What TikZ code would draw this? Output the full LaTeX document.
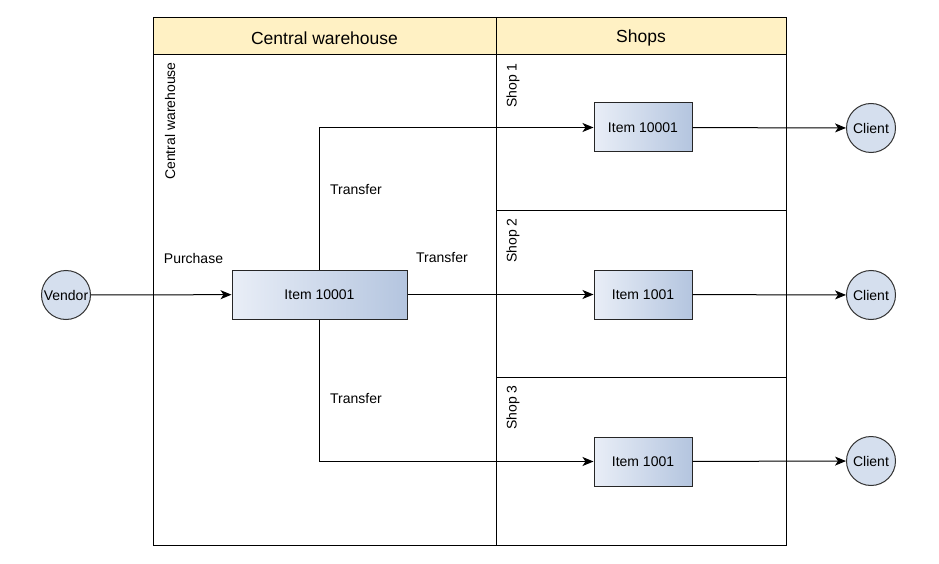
\documentclass[tikz,border=0pt]{standalone}
\usepackage{fontspec}
\setmainfont{Liberation Sans}
\usetikzlibrary{arrows.meta}
\definecolor{hdr}{HTML}{FFF1C4}
\definecolor{itemL}{HTML}{E9EEF7}
\definecolor{itemR}{HTML}{B4C5DF}
\definecolor{circ}{HTML}{D5DFEE}
\begin{document}
\begin{tikzpicture}[x=1pt,y=-1pt,
  every node/.style={font=\fontsize{14}{16}\selectfont},
  frame/.style={draw=black,line width=1pt},
  hdrtext/.style={font=\fontsize{17.5}{20}\selectfont},
  lanelabel/.style={rotate=90,anchor=east,inner sep=0pt},
  itembox/.style={draw=black!85,line width=1pt,rectangle,left color=itemL,right color=itemR,inner sep=0pt},
  party/.style={draw=black!80,line width=1pt,circle,fill=circ,minimum size=49pt,inner sep=0pt},
  flow/.style={draw=black,line width=1pt,-{Stealth[length=11pt,width=9pt,inset=3pt]}},
  lbl/.style={inner sep=0pt}
]
\useasboundingbox (0,0) rectangle (939,564);
% lanes
\fill[hdr] (153,18) rectangle (786,55);
\draw[frame] (153,18) rectangle (786,545);
\draw[frame] (153,55) -- (786,55);
\draw[frame] (496,18) -- (496,545);
\draw[frame] (496,210) -- (786,210);
\draw[frame] (496,377) -- (786,377);
\node[hdrtext] (hcw) at (324.5,38) {Central warehouse};
\node[hdrtext] (hsh) at (641,38) {Shops};
\node[lanelabel] (lcw) at (170,62) {Central warehouse};
\node[lanelabel] (ls1) at (513,63) {Shop 1};
\node[lanelabel] (ls2) at (513,218) {Shop 2};
\node[lanelabel] (ls3) at (513,385) {Shop 3};
% nodes
\node[party] (vendor) at (66,295) {Vendor};
\node[itembox,minimum width=175pt,minimum height=49pt] (main) at (319.5,294.5) {Item 10001};
\node[itembox,minimum width=98pt,minimum height=49pt] (s1) at (643,127.5) {Item 10001};
\node[itembox,minimum width=98pt,minimum height=49pt] (s2) at (643,294.5) {Item 1001};
\node[itembox,minimum width=98pt,minimum height=49pt] (s3) at (643,461.5) {Item 1001};
\node[party] (c1) at (871,128) {Client};
\node[party] (c2) at (871,295) {Client};
\node[party] (c3) at (871,461) {Client};
% connectors
\draw[flow] (vendor) -- (main);
\draw[flow] (main) -- (s2);
\draw[flow] (main.north) |- (s1.west);
\draw[flow] (main.south) |- (s3.west);
\draw[flow] (s1) -- (c1);
\draw[flow] (s2) -- (c2);
\draw[flow] (s3) -- (c3);
% labels
\node[lbl] (tp) at (193.5,258) {Purchase};
\node[lbl] (tt2) at (442,258) {Transfer};
\node[lbl] (tt1) at (356,190) {Transfer};
\node[lbl] (tt3) at (356,398) {Transfer};
\end{tikzpicture}
\end{document}
